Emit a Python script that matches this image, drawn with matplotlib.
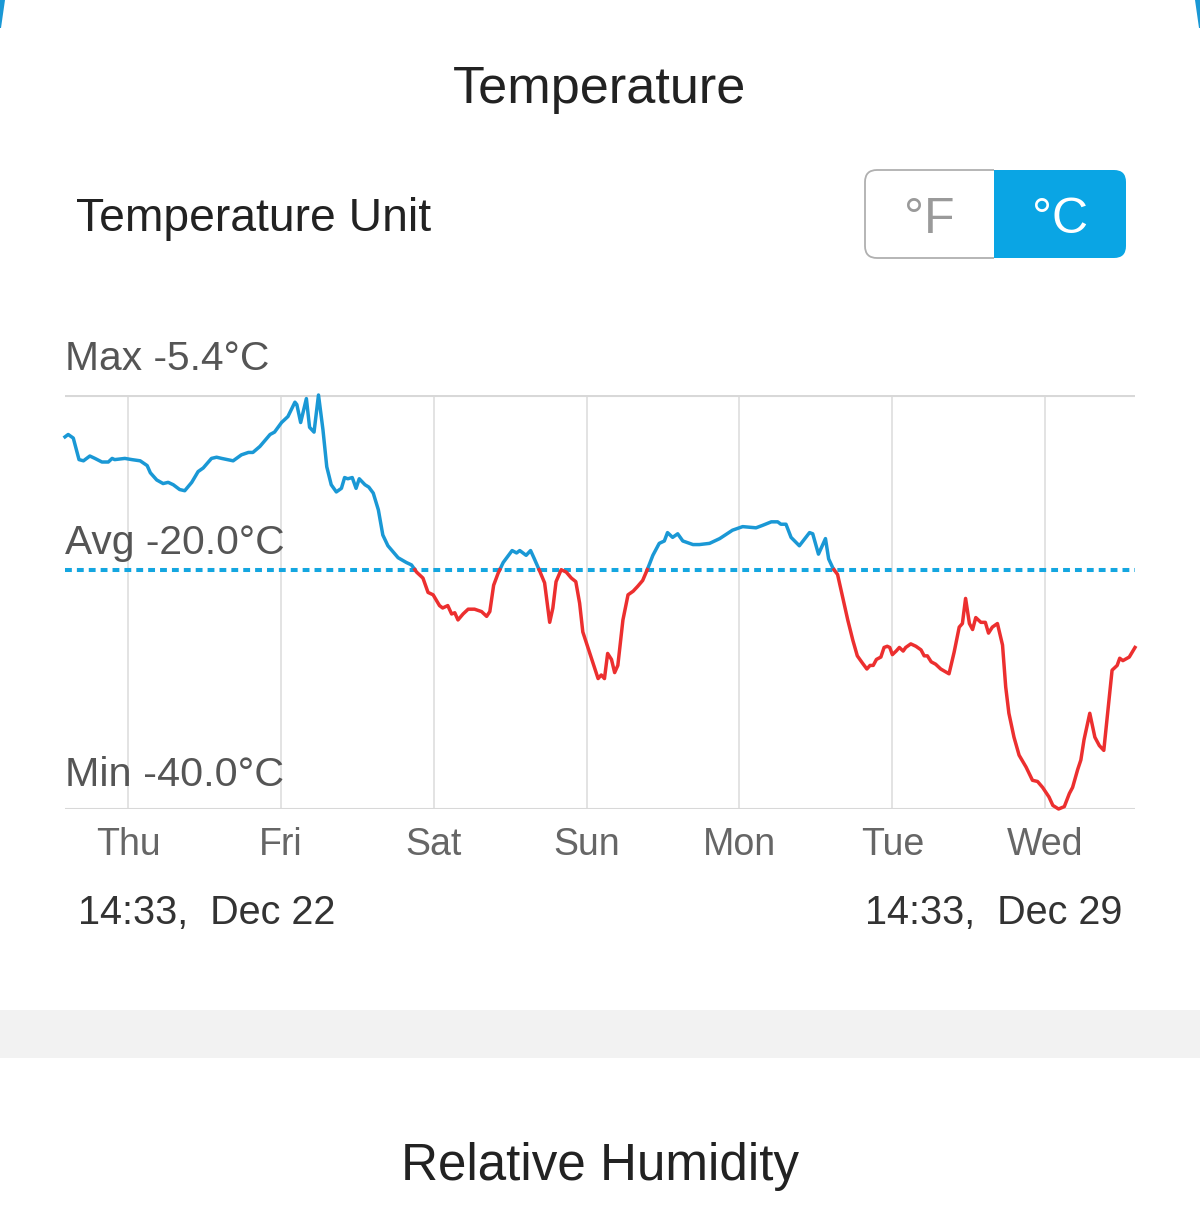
import matplotlib.pyplot as plt
import numpy as np
from matplotlib.patches import FancyBboxPatch, Rectangle, Polygon

plt.rcParams['font.family'] = ['Liberation Sans', 'DejaVu Sans']

# hours since 14:33 Dec 22 and temperature in degrees C
hours = [0.0, 0.5, 1.3, 2.2, 2.9, 3.9, 4.7, 5.8, 6.8, 7.4, 7.8, 9.4, 10.5, 11.8,
         12.9, 13.4, 14.4, 15.4, 16.2, 17.0, 18.0, 18.8, 19.9, 20.9, 21.7, 23.0, 23.8, 24.6,
         26.4, 27.7, 28.8, 29.5, 30.6, 32.2, 32.9, 34.0, 35.0, 36.1, 36.4, 37.0, 37.9, 38.4,
         39.1, 39.8, 40.5, 41.1, 41.8, 42.6, 43.4, 43.9, 44.4, 45.1, 45.7, 46.2, 47.1, 47.7,
         48.4, 49.2, 49.9, 50.7, 51.5, 52.3, 53.6, 54.4, 55.2, 56.2, 57.0, 57.8, 58.8, 59.3,
         60.1, 60.7, 61.2, 61.7, 62.5, 63.3, 64.3, 65.4, 66.2, 66.7, 67.3, 68.0, 68.8, 69.5,
         70.2, 70.9, 71.4, 72.4, 73.1, 73.7, 74.6, 75.3, 76.1, 76.6, 77.1, 77.9, 78.7, 79.5,
         80.2, 80.8, 81.3, 82.1, 82.9, 83.7, 84.2, 84.7, 85.2, 85.8, 86.3, 86.8, 87.6, 88.4,
         89.2, 89.9, 90.7, 91.5, 92.3, 93.3, 94.1, 94.6, 95.4, 96.2, 97.0, 98.6, 99.6, 101.2,
         102.8, 104.8, 106.4, 108.5, 109.5, 110.9, 111.9, 112.4, 113.2, 114.0, 115.3, 116.9, 117.4, 118.3,
         119.4, 119.9, 120.6, 121.3, 122.1, 122.9, 123.7, 124.4, 125.2, 125.9, 126.4, 126.9, 127.4, 128.1,
         128.6, 129.1, 129.5, 129.9, 130.5, 131.0, 131.6, 132.0, 132.8, 133.6, 134.4, 134.9, 135.4, 136.0,
         136.7, 137.5, 138.8, 139.6, 140.4, 140.9, 141.4, 142.0, 142.5, 143.0, 143.8, 144.5, 145.0, 145.6,
         146.4, 147.2, 147.7, 148.2, 149.0, 149.8, 150.9, 151.9, 152.7, 153.5, 154.5, 155.1, 156.0, 156.9,
         157.7, 158.2, 159.0, 159.5, 160.0, 160.9, 161.7, 162.4, 163.1, 164.4, 165.2, 165.6, 166.1, 167.1, 168.0]

temps = [-8.9, -8.7, -9.0, -10.8, -10.9, -10.5, -10.7, -11.0, -11.0, -10.7, -10.8, -10.7, -10.8, -10.9,
         -11.3, -11.9, -12.5, -12.8, -12.7, -12.9, -13.3, -13.4, -12.7, -11.8, -11.5, -10.7, -10.6, -10.7,
         -10.9, -10.4, -10.2, -10.2, -9.7, -8.7, -8.5, -7.7, -7.2, -6.0, -6.2, -7.7, -5.7, -8.1,
         -8.5, -5.4, -8.3, -11.4, -12.9, -13.5, -13.2, -12.3, -12.4, -12.3, -13.2, -12.4, -12.9, -13.1,
         -13.6, -15.0, -17.1, -18.0, -18.5, -19.0, -19.4, -19.6, -20.2, -20.7, -21.9, -22.1, -23.0, -23.2,
         -23.0, -23.7, -23.6, -24.2, -23.7, -23.3, -23.3, -23.5, -23.9, -23.5, -21.3, -20.3, -19.4, -18.9,
         -18.4, -18.6, -18.4, -18.8, -18.4, -19.1, -20.2, -21.1, -24.4, -23.2, -21.0, -20.0, -20.2, -20.7,
         -21.0, -22.8, -25.2, -26.5, -27.8, -29.1, -28.8, -29.1, -27.0, -27.5, -28.6, -28.0, -24.2, -22.1,
         -21.8, -21.4, -20.9, -19.9, -18.8, -17.8, -17.6, -16.9, -17.3, -17.0, -17.6, -17.9, -17.9, -17.8,
         -17.4, -16.7, -16.4, -16.5, -16.3, -16.0, -16.0, -16.2, -16.2, -17.3, -18.0, -16.9, -17.0, -18.7,
         -17.4, -19.1, -19.9, -20.4, -22.3, -24.2, -25.9, -27.2, -27.8, -28.3, -28.0, -28.0, -27.5, -27.3,
         -26.5, -26.4, -26.5, -27.1, -26.8, -26.5, -26.8, -26.5, -26.2, -26.4, -26.7, -27.2, -27.2, -27.7,
         -27.9, -28.3, -28.7, -26.9, -24.8, -24.5, -22.4, -24.5, -25.0, -24.0, -24.4, -24.4, -25.3, -24.8,
         -24.5, -26.3, -29.8, -32.0, -34.0, -35.5, -36.5, -37.6, -37.7, -38.2, -39.0, -39.7, -40.0, -39.8,
         -38.7, -38.2, -36.7, -35.9, -34.2, -32.0, -34.0, -34.7, -35.1, -28.4, -28.0, -27.4, -27.6, -27.3, -26.5]

t_max = -5.4
t_avg = -20.0
t_min = -40.0

day_ticks = [9.9, 33.9, 57.9, 81.9, 105.9, 129.9, 153.9]
day_labels = ['Thu', 'Fri', 'Sat', 'Sun', 'Mon', 'Tue', 'Wed']
start_label = '14:33,  Dec 22'
end_label = '14:33,  Dec 29'
span = 168

BLUE = '#1a98d5'
RED = '#ec2f2f'
CYAN = '#14a6e0'

# split the curve at the average so above = blue, below = red
x = np.array(hours)
y = np.array(temps)
xs, ys = [x[0]], [y[0]]
for i in range(1, len(x)):
    a, b = y[i - 1] - t_avg, y[i] - t_avg
    if a * b < 0:
        f = a / (a - b)
        xs.append(x[i - 1] + f * (x[i] - x[i - 1]))
        ys.append(t_avg)
    xs.append(x[i])
    ys.append(y[i])
xs = np.array(xs)
ys = np.array(ys)
above = np.where(ys >= t_avg, ys, np.nan)
below = np.where(ys <= t_avg, ys, np.nan)

W, H = 1200, 1212
fig = plt.figure(figsize=(12, 12.12), dpi=100)
fig.patch.set_facecolor('white')

# decoration layer in pixel coords
deco = fig.add_axes([0, 0, 1, 1], zorder=0)
deco.set_xlim(0, W)
deco.set_ylim(H, 0)
deco.axis('off')

deco.add_patch(Polygon([(0, 0), (5, 0), (1, 28), (0, 28)], fc=BLUE, ec='none'))
deco.add_patch(Polygon([(W, 0), (W - 5, 0), (W - 1, 28), (W, 28)], fc=BLUE, ec='none'))

deco.text(600, 103, 'Temperature', ha='center', va='baseline', fontsize=37.6, color='#222222')
deco.text(76, 231, 'Temperature Unit', ha='left', va='baseline', fontsize=33.3, color='#222222')

# unit toggle
box = FancyBboxPatch((865, 170), 261, 88, boxstyle='round,pad=0,rounding_size=12',
                     fc='#0aa5e4', ec='none')
deco.add_patch(box)
left_half = Rectangle((865, 170), 129, 88, fc='white', ec='none')
deco.add_patch(left_half)
left_half.set_clip_path(box)
outline = FancyBboxPatch((865, 170), 261, 88, boxstyle='round,pad=0,rounding_size=12',
                         fc='none', ec='#b0b0b0', lw=1.3)
deco.add_patch(outline)
clip_rect = Rectangle((855, 160), 139, 110, transform=deco.transData)
outline.set_clip_path(clip_rect)
deco.text(929, 233, '°F', ha='center', va='baseline', fontsize=36, color='#9a9a9a')
deco.text(1060, 233, '°C', ha='center', va='baseline', fontsize=36, color='white')

deco.text(78, 924, start_label, ha='left', va='baseline', fontsize=28.5, color='#333333')
deco.text(1122, 924, end_label, ha='right', va='baseline', fontsize=28.5, color='#333333')

deco.add_patch(Rectangle((0, 1010), W, 48, fc='#f2f2f2', ec='none'))
deco.text(600, 1180, 'Relative Humidity', ha='center', va='baseline', fontsize=36.8, color='#222222')

# chart
ax = fig.add_axes([65 / W, 1 - 809 / H, 1070 / W, 414 / H], zorder=1)
ax.patch.set_alpha(0)
ax.set_xlim(0, span)
ax.set_ylim(t_min, t_max)
for s in ax.spines.values():
    s.set_visible(False)
ax.set_yticks([])
ax.set_xticks(day_ticks, day_labels)
ax.tick_params(axis='x', length=0, pad=12.7, labelsize=27, labelcolor='#666666')

for t in day_ticks:
    ax.axvline(t, color='#e3e3e3', lw=1.4, zorder=1)
ax.axhline(t_max, color='#d8d8d8', lw=2.2, zorder=1)
ax.axhline(t_min, color='#d8d8d8', lw=2.2, zorder=1)
ax.axhline(t_avg, color=CYAN, lw=2.9, linestyle=(0, (1.7, 1.25)), zorder=2)

ax.plot(xs, above, color=BLUE, lw=2.5, zorder=3, clip_on=False, solid_joinstyle='round')
ax.plot(xs, below, color=RED, lw=2.5, zorder=3, clip_on=False, solid_joinstyle='round')

ax.annotate(f'Max {t_max:.1f}°C', xy=(0, t_max), xytext=(0, 18), textcoords='offset points',
            ha='left', va='baseline', fontsize=29.3, color='#555555')
ax.annotate(f'Avg {t_avg:.1f}°C', xy=(0, t_avg), xytext=(0, 11.5), textcoords='offset points',
            ha='left', va='baseline', fontsize=29.3, color='#555555')
ax.annotate(f'Min {t_min:.1f}°C', xy=(0, t_min), xytext=(0, 16.5), textcoords='offset points',
            ha='left', va='baseline', fontsize=29.8, color='#555555')

fig.savefig('out.png', dpi=100, facecolor='white')
